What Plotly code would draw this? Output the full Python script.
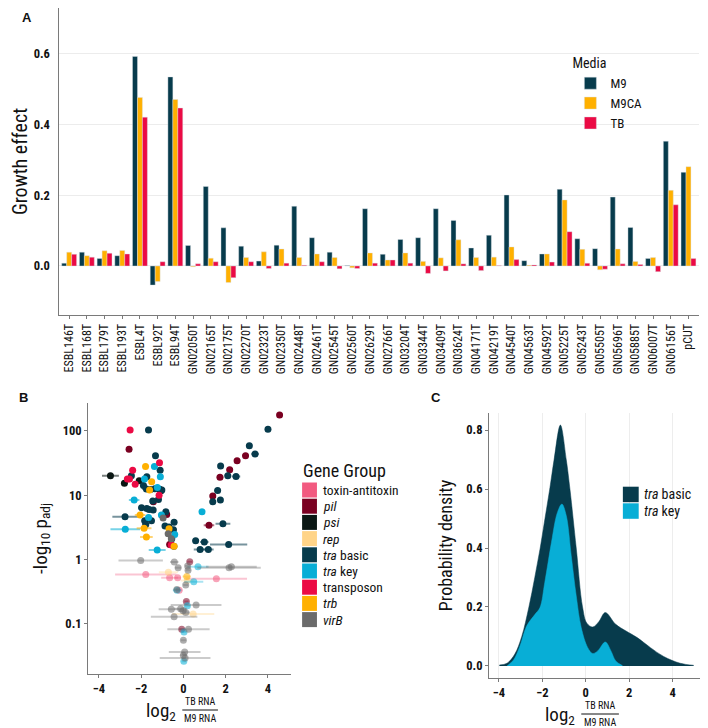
import plotly.graph_objects as go

# The page body has an 8px default margin, so the figure is sized to fit the
# 708x728 window and layout positions below are given in window pixels.
OFF = 8
W, H = 708 - OFF, 728 - OFF
def fx(p): return (p - OFF) / W
def fy(p): return 1 - (p - OFF) / H

FONT = "Roboto Condensed, Roboto, sans-serif"
AXC = "#7a7a7a"

# ---------------- Panel A data ----------------
strains = ["ESBL146T", "ESBL168T", "ESBL179T", "ESBL193T", "ESBL4T", "ESBL92T", "ESBL94T",
           "GN02050T", "GN02165T", "GN02175T", "GN02270T", "GN02323T", "GN02350T", "GN02448T",
           "GN02461T", "GN02545T", "GN02560T", "GN02629T", "GN02766T", "GN03204T", "GN03344T",
           "GN03409T", "GN03624T", "GN04171T", "GN04219T", "GN04540T", "GN04563T", "GN04592T",
           "GN05225T", "GN05243T", "GN05505T", "GN05696T", "GN05885T", "GN06007T", "GN06156T", "pCUT"]
m9 = [0.008, 0.039, 0.021, 0.029, 0.593, -0.054, 0.535, 0.058, 0.225, 0.108, 0.056, 0.014,
      0.059, 0.169, 0.080, 0.039, 0.001, 0.162, 0.033, 0.075, 0.080, 0.162, 0.129, 0.051,
      0.087, 0.201, 0.015, 0.034, 0.217, 0.077, 0.049, 0.195, 0.109, 0.021, 0.353, 0.265]
m9ca = [0.039, 0.029, 0.043, 0.044, 0.477, -0.044, 0.471, -0.002, 0.022, -0.047, 0.024, 0.040,
        0.048, 0.024, 0.034, 0.024, -0.005, 0.037, 0.017, 0.037, 0.013, 0.023, 0.074, 0.024,
        0.025, 0.054, 0.002, 0.034, 0.187, 0.047, -0.011, 0.048, 0.013, 0.024, 0.214, 0.281]
tb = [0.033, 0.025, 0.036, 0.034, 0.421, 0.012, 0.447, 0.006, 0.012, -0.033, 0.012, -0.007,
      0.008, 0.002, 0.012, -0.008, -0.007, 0.008, 0.017, 0.008, -0.021, -0.014, 0.006, -0.013,
      0.001, 0.018, 0.003, 0.011, 0.097, 0.008, -0.009, 0.006, 0.004, -0.016, 0.173, 0.021]
media = ["M9", "M9CA", "TB"]
media_colors = ["#073B4C", "#FFB000", "#EB0A44"]

# ---------------- Panel B data ----------------
gene_groups = ["toxin-antitoxin", "<i>pil</i>", "<i>psi</i>", "<i>rep</i>", "<i>tra</i> basic",
               "<i>tra</i> key", "transposon", "<i>trb</i>", "<i>virB</i>"]
gene_colors = ["#F25A80", "#7A0021", "#0B1714", "#FFD488", "#073B4C",
               "#08AED6", "#EB0A44", "#FFB000", "#6B6B6B"]

ta_lfc = [-1.78, -0.65, -0.27, 1.56, -0.20, -0.60]
ta_p = [0.58, 0.52, 0.52, 0.50, 0.33, 1.75]
ta_err = [1.45, 0.40, 0.15, 1.45, 0.15, 0.12]

pil_lfc = [-2.57, -1.42, -0.79, -0.65, 0.30, 0.14, -0.08, 4.55, 2.94, 2.54, 2.19, 1.73, 1.39, 1.21]
pil_p = [52, 7.9, 5.0, 1.7, 0.92, 0.22, 0.082, 177, 41, 34.5, 25, 19, 9.7, 3.4]
pil_err = [0.12, 0.12, 0.10, 0.15, 0.12, 0.10, 0.12, 0.10, 0.15, 0.12, 0.15, 0.15, 0.12, 0.25]

psi_lfc = [-3.45, -2.09, -2.79, -1.06]
psi_p = [20, 16.8, 15.3, 11.7]
psi_err = [0.40, 0.10, 0.15, 0.12]

rep_lfc = [-0.71, 0.46, 0.18]
rep_p = [0.63, 0.141, 0.47]
rep_err = [0.45, 1.00, 0.30]

trab_lfc = [-1.65, -1.32, -1.10, -2.46, -1.73, -1.89, -1.75, -1.56, -1.35, -1.12, -1.02, -1.18,
            -1.45, -1.98, -1.73, -1.62, -1.43, -0.83, -2.76, -1.51, -1.83, -0.44, -1.78, -0.87,
            -0.68, -0.47, -0.55, -0.45,
            4.00, 3.12, 3.39, 1.76, 2.10, 2.49, 1.62, 1.75, 1.39, 1.87, 0.58, 0.99, 2.14, 0.79, 1.18]
trab_p = [104, 41, 24.4, 20, 19.4, 14.2, 12.5, 12.3, 12.6, 12.4, 12.0, 8.6,
          8.1, 6.4, 6.2, 6.0, 5.9, 5.5, 4.6, 4.0, 4.0, 3.8, 3.5, 3.3,
          3.2, 2.9, 2.1, 1.6,
          106, 59, 44, 28.5, 20, 19.5, 11.8, 8.4, 7.9, 3.6, 1.95, 1.86, 1.7, 1.43, 1.43]
trab_err = [0.10, 0.08, 0.08, 0.12, 0.10, 0.15, 0.20, 0.15, 0.15, 0.10, 0.10, 0.10,
            0.10, 0.12, 0.12, 0.10, 0.10, 0.10, 0.60, 0.12, 0.15, 0.08, 0.15, 0.12,
            0.15, 0.08, 0.10, 0.10,
            0.12, 0.12, 0.18, 0.10, 0.15, 0.20, 0.15, 0.12, 0.15, 0.35, 0.15, 0.20, 0.88, 0.30, 0.25]

trak_lfc = [-1.37, -1.09, -1.84, -1.23, -2.33, -1.65, -1.04, -2.75, -0.41, -1.24, 0.88, 0.69,
            0.49, -0.30, 0.19, 0.03, 0.02]
trak_p = [28, 19.4, 17.8, 13.2, 8.4, 4.5, 4.9, 2.95, 2.45, 1.4, 5.5, 0.77,
          0.45, 0.33, 0.19, 0.074, 0.026]
trak_err = [0.10, 0.08, 0.10, 0.10, 0.25, 0.15, 0.15, 0.70, 0.10, 0.40, 0.12, 0.50,
            0.45, 0.20, 0.12, 0.10, 0.10]

tn_lfc = [-2.52, -1.13, -2.40, -2.65, -2.55, -2.28, -1.15, -0.57]
tn_p = [104, 32, 24.4, 17.8, 17.8, 14.8, 10.0, 1.68]
tn_err = [0.08, 0.08, 0.12, 0.12, 0.10, 0.10, 0.10, 0.10]

trb_lfc = [-1.79, -1.50, -1.60, -2.05, -1.86, -0.68, -1.75, -0.44, 0.16]
trb_p = [28, 16.2, 12.0, 4.9, 3.05, 3.0, 2.24, 1.6, 0.54]
trb_err = [0.10, 0.10, 0.12, 0.25, 0.35, 0.12, 0.30, 0.10, 0.20]

virb_lfc = [-0.96, -0.72, -0.57, -2.02, -0.43, -0.25, 0.20, 0.22, 2.16, 2.27, 0.11, -0.31,
            0.60, -0.57, -0.13, -0.02, 0.11, -0.44, 0.24, 0.00, 0.06, 0.00, 0.08]
virb_p = [4.4, 2.5, 2.1, 0.96, 0.91, 0.74, 0.79, 0.68, 0.74, 0.77, 0.40, 0.34,
          0.195, 0.168, 0.17, 0.158, 0.149, 0.128, 0.082, 0.055, 0.036, 0.032, 0.029]
virb_err = [0.12, 0.12, 0.12, 1.05, 0.20, 0.15, 0.12, 0.12, 1.50, 1.20, 0.12, 0.15,
            1.20, 0.60, 0.30, 0.20, 0.20, 1.10, 1.00, 0.12, 0.75, 0.15, 1.20]

groups_b = [(ta_lfc, ta_p, ta_err), (pil_lfc, pil_p, pil_err), (psi_lfc, psi_p, psi_err),
            (rep_lfc, rep_p, rep_err), (trab_lfc, trab_p, trab_err), (trak_lfc, trak_p, trak_err),
            (tn_lfc, tn_p, tn_err), (trb_lfc, trb_p, trb_err), (virb_lfc, virb_p, virb_err)]
SIG = 1.3

# ---------------- Panel C data ----------------
basic_x = [-3.98, -3.63, -3.27, -2.95, -2.62, -2.35, -2.10, -1.88, -1.66, -1.46, -1.17, -0.90,
           -0.73, -0.44, -0.15, 0.05, 0.32, 0.60, 0.90, 1.38, 1.84, 2.37, 2.98, 3.59, 4.35, 4.97]
basic_d = [0.003, 0.009, 0.040, 0.100, 0.200, 0.300, 0.400, 0.500, 0.600, 0.700, 0.817, 0.700,
           0.600, 0.400, 0.200, 0.145, 0.132, 0.150, 0.181, 0.141, 0.119, 0.096, 0.062, 0.032,
           0.009, 0.002]
key_x = [-3.63, -3.33, -3.03, -2.72, -2.34, -2.11, -1.89, -1.58, -1.31, -1.10, -0.90, -0.67,
         -0.44, -0.21, 0.09, 0.32, 0.55, 0.90, 1.16, 1.38, 1.69]
key_d = [0.000, 0.020, 0.068, 0.136, 0.175, 0.198, 0.283, 0.420, 0.520, 0.549, 0.510, 0.374,
         0.238, 0.130, 0.062, 0.042, 0.051, 0.081, 0.051, 0.017, 0.001]
density_groups = ["<i>tra</i> basic", "<i>tra</i> key"]
density_colors = ["#073B4C", "#08AED6"]


def rgba(h, a):
    h = h.lstrip("#")
    return "rgba(%d,%d,%d,%.2f)" % (int(h[0:2], 16), int(h[2:4], 16), int(h[4:6], 16), a)


fig = go.Figure()

# Panel A bars
for name, vals, col in zip(media, [m9, m9ca, tb], media_colors):
    fig.add_trace(go.Bar(x=strains, y=vals, name=name, marker_color=col,
                         marker_line=dict(color="rgba(220,225,230,0.7)", width=0.6),
                         xaxis="x", yaxis="y"))

# Panel B scatter
for (lfc, p, err), name, col in zip(groups_b, gene_groups, gene_colors):
    for sig in (False, True):
        idx = [i for i in range(len(p)) if (p[i] >= SIG) == sig]
        if not idx:
            continue
        a_pt = 1.0 if sig else 0.55
        a_err = 0.55 if sig else 0.35
        fig.add_trace(go.Scatter(
            x=[lfc[i] for i in idx], y=[p[i] for i in idx], mode="markers", name=name,
            marker=dict(color=rgba(col, a_pt), size=7, line=dict(width=0)),
            error_x=dict(type="data", array=[err[i] for i in idx], color=rgba(col, a_err),
                         thickness=2, width=0),
            xaxis="x2", yaxis="y2", showlegend=False))

# Panel C densities
for xs, ds, col, name in zip([basic_x, key_x], [basic_d, key_d], density_colors, density_groups):
    fig.add_trace(go.Scatter(x=xs, y=ds, mode="lines", name=name,
                             line=dict(color=col, width=0.5, shape="spline", smoothing=1.0),
                             fill="tozeroy", fillcolor=col, xaxis="x3", yaxis="y3", showlegend=False))

tickf = dict(family=FONT, size=12.5, color="#111", weight="bold")
axis_common = dict(showline=True, linecolor=AXC, linewidth=1.3, zeroline=False, mirror=False)

fig.update_layout(
    width=W, height=H, margin=dict(l=0, r=0, t=0, b=0),
    paper_bgcolor="white", plot_bgcolor="white",
    barmode="group", bargap=0.16, bargroupgap=0,
    font=dict(family=FONT, color="#111"),
    xaxis=dict(domain=[fx(52), fx(699)], anchor="y", type="category", categoryorder="array",
               categoryarray=strains, range=[-0.6, 35.6], tickangle=-90,
               ticks="outside", ticklen=3, tickcolor=AXC, showgrid=False,
               tickfont=dict(family=FONT, size=12, color="#111"), **axis_common),
    yaxis=dict(domain=[fy(315), fy(8)], anchor="x", range=[-0.1387, 0.730],
               tickvals=[0, 0.2, 0.4, 0.6], ticktext=["0.0", "0.2", "0.4", "0.6"],
               showgrid=True, gridcolor="#ececec", gridwidth=1, ticks="", tickfont=tickf,
               ticklabelstandoff=5,
               title=dict(text="Growth effect", font=dict(family=FONT, size=20), standoff=12),
               **axis_common),
    xaxis2=dict(domain=[fx(82), fx(287)], anchor="y2", range=[-4.5, 5.1],
                tickvals=[-4, -2, 0, 2, 4], ticks="outside", ticklen=3, tickcolor=AXC,
                showgrid=False, tickfont=tickf, **axis_common),
    yaxis2=dict(domain=[fy(674), fy(403)], anchor="x2", type="log", range=[-1.785, 2.436],
                tickvals=[0.1, 1, 10, 100], ticktext=["0.1", "1", "10", "100"],
                ticks="outside", ticklen=3, tickcolor=AXC, showgrid=False, tickfont=tickf,
                title=dict(text="-log<sub>10</sub> p<sub>adj</sub>", font=dict(family=FONT, size=19),
                           standoff=10),
                **axis_common),
    xaxis3=dict(domain=[fx(487), fx(704)], anchor="y3", range=[-4.45, 5.45],
                tickvals=[-4, -2, 0, 2, 4], ticks="outside", ticklen=3, tickcolor=AXC,
                showgrid=True, gridcolor="#ededed", tickfont=tickf, **axis_common),
    yaxis3=dict(domain=[fy(678), fy(413)], anchor="x3", range=[-0.041, 0.858],
                tickvals=[0, 0.2, 0.4, 0.6, 0.8], ticktext=["0.0", "0.2", "0.4", "0.6", "0.8"],
                ticks="outside", ticklen=3, tickcolor=AXC, showgrid=False, tickfont=tickf,
                title=dict(text="Probability density", font=dict(family=FONT, size=18), standoff=8),
                **axis_common),
    showlegend=True,
    legend=dict(x=fx(569), y=fy(50), xanchor="left", yanchor="top", bgcolor="rgba(0,0,0,0)",
                title=dict(text="Media", font=dict(family=FONT, size=14)),
                font=dict(family=FONT, size=13), itemwidth=30, tracegroupgap=0),
)

ann = []
shapes = []
for t, x, y in [("A", 20, 18), ("B", 17, 397), ("C", 433, 397)]:
    ann.append(dict(text="<b>%s</b>" % t, x=fx(x), y=fy(y), xref="paper", yref="paper",
                    xanchor="center", yanchor="middle", showarrow=False,
                    font=dict(family="Liberation Sans, Arial", size=13, color="#111")))

# x-axis titles: log2 (TB RNA / M9 RNA)
for (cx, cy, half) in [(195, 710, 18), (599, 714, 19)]:
    ann.append(dict(text="log<sub>2</sub>", x=fx(cx - half - 4), y=fy(cy + 1), xref="paper",
                    yref="paper", xanchor="right", yanchor="middle", showarrow=False,
                    font=dict(family=FONT, size=19, color="#111")))
    ann.append(dict(text="TB RNA", x=fx(cx), y=fy(cy - 1), xref="paper", yref="paper",
                    xanchor="center", yanchor="bottom", showarrow=False,
                    font=dict(family=FONT, size=10, color="#111")))
    ann.append(dict(text="M9 RNA", x=fx(cx), y=fy(cy + 1), xref="paper", yref="paper",
                    xanchor="center", yanchor="top", showarrow=False,
                    font=dict(family=FONT, size=10, color="#111")))
    shapes.append(dict(type="line", xref="paper", yref="paper", x0=fx(cx - half), x1=fx(cx + half),
                       y0=fy(cy), y1=fy(cy), line=dict(color="#111", width=1)))

# Legend for panel B (Gene Group)
ann.append(dict(text="Gene Group", x=fx(297), y=fy(470), xref="paper", yref="paper",
                xanchor="left", yanchor="middle", showarrow=False,
                font=dict(family=FONT, size=18, color="#111")))
for i, (name, col) in enumerate(zip(gene_groups, gene_colors)):
    top = 482.5 + 16.2 * i
    shapes.append(dict(type="rect", xref="paper", yref="paper", x0=fx(298), x1=fx(313),
                       y0=fy(top + 15), y1=fy(top), fillcolor=col, line=dict(width=0)))
    ann.append(dict(text=name, x=fx(317), y=fy(top + 7.5), xref="paper", yref="paper",
                    xanchor="left", yanchor="middle", showarrow=False,
                    font=dict(family=FONT, size=13.5, color="#111")))

# Legend for panel C
for i, (name, col) in enumerate(zip(density_groups, density_colors)):
    top = 486.7 + 16.6 * i
    shapes.append(dict(type="rect", xref="paper", yref="paper", x0=fx(622), x1=fx(638),
                       y0=fy(top + 15.5), y1=fy(top), fillcolor=col, line=dict(width=0)))
    ann.append(dict(text=name, x=fx(641), y=fy(top + 7.7), xref="paper", yref="paper",
                    xanchor="left", yanchor="middle", showarrow=False,
                    font=dict(family=FONT, size=14, color="#111")))

fig.update_layout(annotations=ann, shapes=shapes)
fig.write_html("out.html")
